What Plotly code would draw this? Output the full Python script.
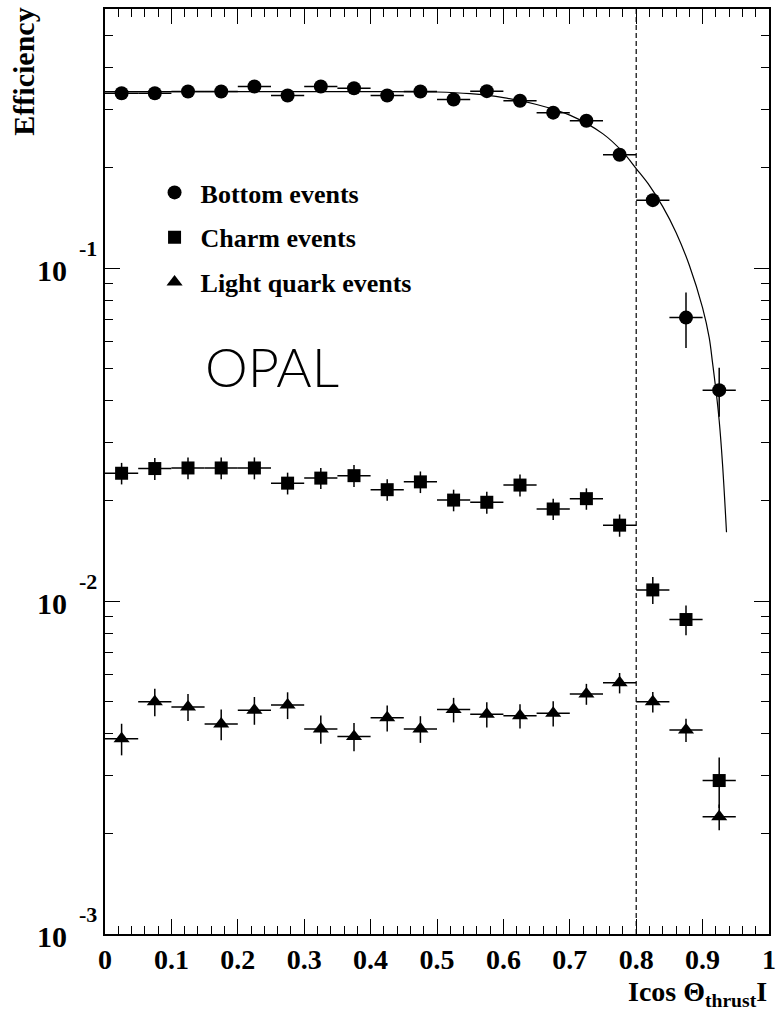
import math
import plotly.graph_objects as go

# ---------------- data ----------------
bin_centers = [0.025, 0.075, 0.125, 0.175, 0.225, 0.275, 0.325, 0.375, 0.425, 0.475,
               0.525, 0.575, 0.625, 0.675, 0.725, 0.775, 0.825, 0.875, 0.925]
bin_halfwidth = [0.025] * 19

bottom_eff = [0.335, 0.335, 0.339, 0.339, 0.351, 0.330, 0.351, 0.347, 0.330, 0.339,
              0.321, 0.340, 0.318, 0.293, 0.277, 0.219, 0.160, 0.0710, 0.0430]
bottom_err = [0.004, 0.004, 0.004, 0.004, 0.004, 0.004, 0.004, 0.004, 0.004, 0.004,
              0.004, 0.004, 0.004, 0.004, 0.004, 0.004, 0.005, 0.0135, 0.0072]

charm_eff = [0.0242, 0.0250, 0.0251, 0.0251, 0.0251, 0.0226, 0.0234, 0.0238, 0.0216, 0.0228,
             0.0201, 0.0198, 0.0223, 0.0189, 0.0203, 0.0169, 0.0108, 0.0088, 0.00289]
charm_err = [0.0018, 0.0019, 0.0019, 0.0019, 0.0019, 0.0017, 0.0017, 0.0018, 0.0016, 0.0017,
             0.0015, 0.0015, 0.0017, 0.0014, 0.0015, 0.0013, 0.0010, 0.0009, 0.0005]

light_eff = [0.00386, 0.00498, 0.00481, 0.00427, 0.00470, 0.00487, 0.00413, 0.00392, 0.00446, 0.00413,
             0.00472, 0.00457, 0.00452, 0.00460, 0.00526, 0.00568, 0.00498, 0.00410, 0.00225]
light_err = [0.00042, 0.00047, 0.00045, 0.00045, 0.00045, 0.00045, 0.00040, 0.00038, 0.00040, 0.00038,
             0.00040, 0.00040, 0.00038, 0.00040, 0.00038, 0.00040, 0.00035, 0.00033, 0.00020]

# fit curve, points
fit_x = [0.0, 0.1, 0.2, 0.3, 0.4, 0.5, 0.55, 0.6, 0.65, 0.70, 0.75, 0.78, 0.80,
         0.82, 0.84, 0.86, 0.88, 0.90, 0.91, 0.915, 0.92, 0.925, 0.930, 0.936]
fit_y = [0.339, 0.339, 0.339, 0.339, 0.339, 0.338, 0.334, 0.325, 0.310, 0.288, 0.253, 0.223, 0.199,
         0.177, 0.153, 0.128, 0.102, 0.0759, 0.0617, 0.0519, 0.0432, 0.0348, 0.0258, 0.0161]

cut_value = 0.8

x_tickvals = [0, 0.1, 0.2, 0.3, 0.4, 0.5, 0.6, 0.7, 0.8, 0.9, 1.0]
x_ticktext = ["0", "0.1", "0.2", "0.3", "0.4", "0.5", "0.6", "0.7", "0.8", "0.9", "1"]
y_decades = [-3, -2, -1]
y_tickvals = [0.001, 0.01, 0.1]
y_exponent_text = ["-3", "-2", "-1"]

series_names = ["Bottom events", "Charm events", "Light quark events"]

# ---------------------------------------------------------------
SERIF = "Liberation Serif"

y_minor = [k * 10 ** e for e in (-3, -2, -1) for k in range(2, 10) if k * 10 ** e <= 0.6]

fig = go.Figure()

# fit curve
fig.add_trace(go.Scatter(
    x=fit_x, y=fit_y, mode="lines",
    line=dict(color="black", width=1.2, shape="spline", smoothing=1.0),
    showlegend=False, hoverinfo="skip"))

def add_series(y, err, name, symbol, size, group):
    fig.add_trace(go.Scatter(
        x=bin_centers, y=y, mode="markers", name=name,
        legendgroup=group,
        marker=dict(symbol=symbol, size=size, color="black", line=dict(width=0)),
        error_x=dict(type="data", array=bin_halfwidth, color="black", thickness=1.5, width=0),
        error_y=dict(type="data", array=err, color="black", thickness=1.5, width=0),
    ))

add_series(bottom_eff, bottom_err, series_names[0], "circle", 14, "b")
add_series(charm_eff, charm_err, series_names[1], "square", 13, "c")
add_series(light_eff, light_err, series_names[2], "triangle-up", 14, "l")

# cut line
fig.add_shape(type="line", x0=cut_value, x1=cut_value, xref="x", y0=0, y1=1, yref="paper",
              line=dict(color="black", width=1.2, dash="5px,3px"))

axis_common = dict(
    showline=True, linecolor="black", linewidth=1.5, mirror="allticks",
    ticks="inside", ticklen=15, tickwidth=1.3, tickcolor="black",
    showgrid=False, zeroline=False,
)

fig.update_xaxes(
    range=[0, 1], tickmode="array", tickvals=x_tickvals, ticktext=x_ticktext,
    tickfont=dict(family=SERIF, size=28, color="black", weight="bold"),
    minor=dict(dtick=0.02, ticks="inside", ticklen=8, tickwidth=1.2, tickcolor="black", showgrid=False),
    **axis_common)

fig.update_yaxes(
    type="log", range=[-3, math.log10(0.6)], tickmode="array",
    tickvals=y_tickvals, showticklabels=False,
    minor=dict(tickmode="array", tickvals=y_minor, ticks="inside", ticklen=8, tickwidth=1.2,
               tickcolor="black", showgrid=False),
    **axis_common)

annotations = [
    dict(text="Efficiency", textangle=-90, xref="paper", yref="paper",
         x=-0.123, y=1.004, xanchor="center", yanchor="top", showarrow=False,
         font=dict(family=SERIF, size=30, color="black", weight="bold")),
    dict(text="Icos Θ<sub>thrust</sub>I", xref="paper", yref="paper",
         x=1.0, y=-0.043, xanchor="right", yanchor="top", showarrow=False,
         font=dict(family=SERIF, size=28, color="black", weight="bold")),
    dict(text="OPAL", xref="paper", yref="paper",
         x=0.251, y=0.6137, xanchor="center", yanchor="middle", showarrow=False,
         font=dict(family="Lato", size=54, color="black", weight=300)),
]
# y-axis decade labels: "10" with a raised exponent
for dec, exp_txt in zip(y_decades, y_exponent_text):
    annotations.append(dict(text="10", xref="paper", yref="y", x=-0.0799, y=dec,
                            xanchor="center", yanchor="middle", yshift=-2, showarrow=False,
                            font=dict(family=SERIF, size=30, color="black", weight="bold")))
    annotations.append(dict(text=exp_txt, xref="paper", yref="y", x=-0.0261, y=dec,
                            xanchor="center", yanchor="middle", yshift=20, showarrow=False,
                            font=dict(family=SERIF, size=22, color="black", weight="bold")))

fig.update_layout(
    width=783, height=1017,
    margin=dict(l=105, r=8, t=7, b=83),
    paper_bgcolor="white", plot_bgcolor="white",
    showlegend=True,
    legend=dict(x=0.0656, y=0.827, xanchor="left", yanchor="top",
                traceorder="grouped", tracegroupgap=8, itemwidth=42,
                font=dict(family=SERIF, size=26, color="black", weight="bold"),
                bgcolor="rgba(0,0,0,0)", borderwidth=0),
    annotations=annotations,
)

fig.write_html("out.html", config={"displayModeBar": False},
               post_script="document.body.style.margin='0px';")
